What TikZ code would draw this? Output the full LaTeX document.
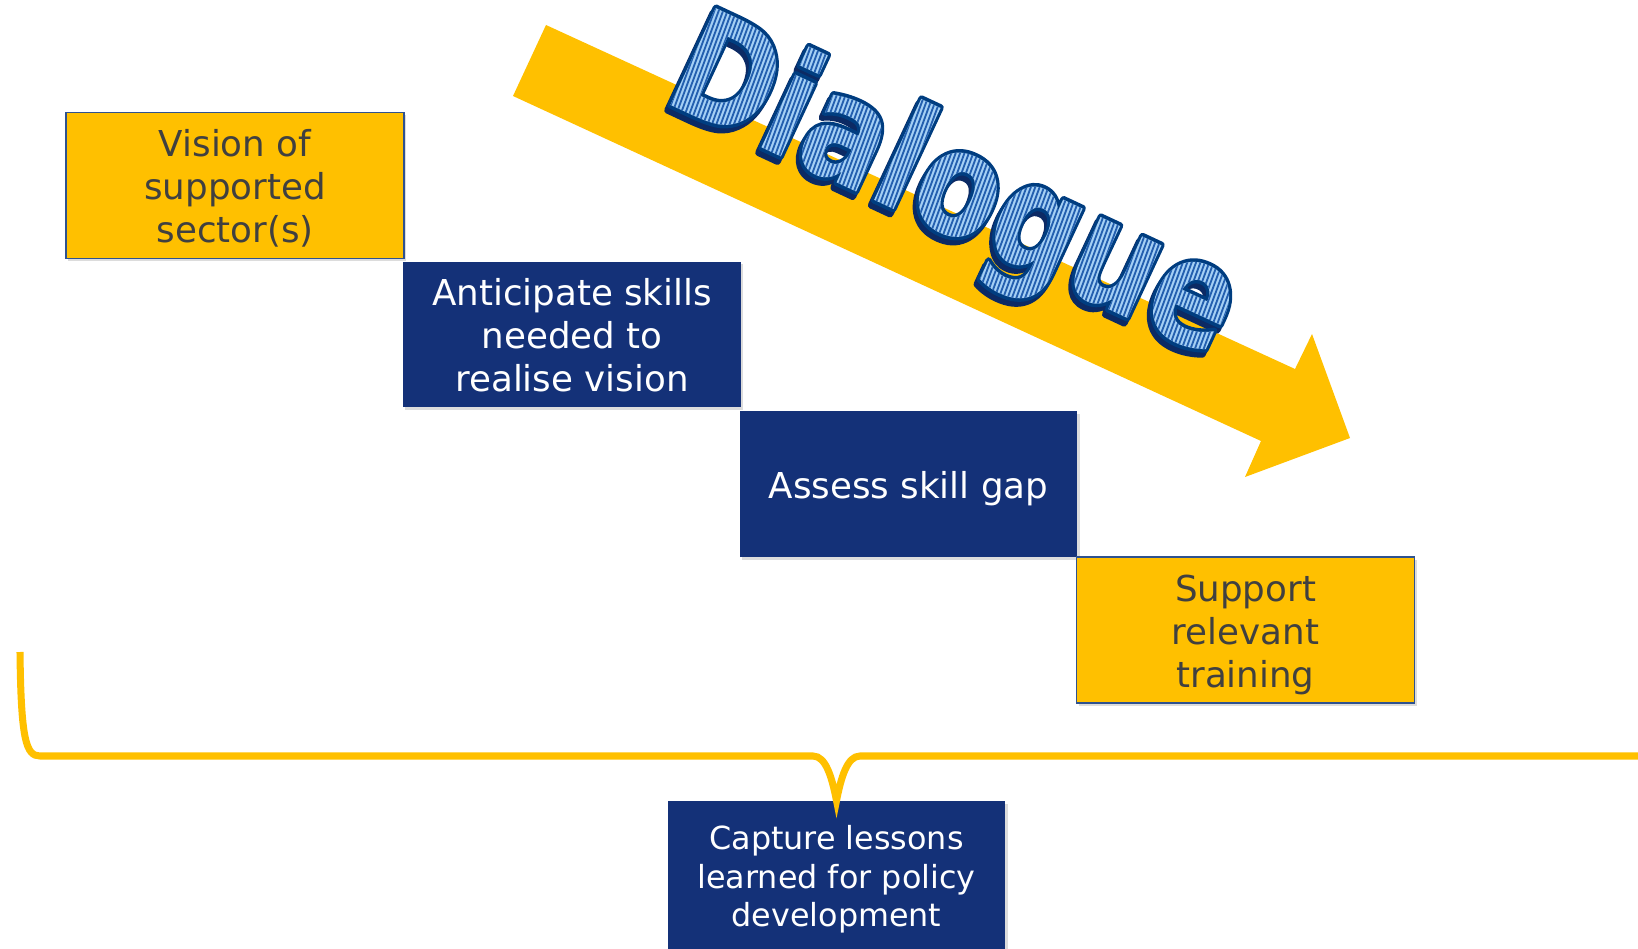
\documentclass[tikz,border=0pt]{standalone}
\usepackage{fontspec}
\setmainfont{DejaVu Sans}
\usetikzlibrary{shadows}
\definecolor{navy}{RGB}{20,49,120}
\definecolor{gold}{RGB}{255,192,0}
\definecolor{txtgray}{RGB}{64,64,64}
\definecolor{edgeblue}{RGB}{47,82,143}
\definecolor{dlglight}{RGB}{165,208,245}
\definecolor{dlgstripe}{RGB}{35,95,175}
\definecolor{dlgline}{RGB}{0,61,128}
\definecolor{dlgshadow}{RGB}{12,42,100}
% stroked text (fill + stroke) inside its own graphics state
\newcommand\strokeword[2]{\special{pdf:bcontent}\special{pdf:literal direct 2 Tr #1 w 1 j}#2\special{pdf:econtent}}
% text filled and stroked, also used as a clip that is filled with light blue and stripes
\newcommand\stripeword[2]{%
  \special{pdf:bcontent}%
  \rlap{\special{pdf:literal direct 6 Tr #1 w 1 j}#2}%
  \tikz[overlay,x=1pt,y=1pt,baseline=0pt]{%
    \fill[dlglight] (-8,-28) rectangle (365,82);
    \foreach \k in {-12,...,162}
      \draw[dlgstripe, line width=1.05pt] (\k*2.35,-28) -- ++(-11,110);}%
  \special{pdf:econtent}%
  \phantom{#2}}
\newcommand\boxtext[1]{\raisebox{0pt}[\height][\dimexpr\depth-6.4pt\relax]{\begin{tabular}{@{}c@{}}#1\end{tabular}}}
\begin{document}
\begin{tikzpicture}[x=0.02cm,y=-0.02cm,
  box/.style={minimum width=6.76cm, minimum height=2.92cm, inner sep=0pt,
    drop shadow={shadow xshift=1.2pt, shadow yshift=-1.6pt, opacity=0.28}},
  goldbox/.style={box, fill=gold, draw=edgeblue, line width=0.8pt, text=txtgray,
    font=\fontsize{20.3}{24.5}\selectfont},
  navybox/.style={box, fill=navy, text=white, font=\fontsize{20.3}{24.5}\selectfont},
  bracestyle/.style={draw=gold, line width=4pt},
  bigarrow/.style={fill=gold},
  dlgtext/.style={anchor=base west, rotate=-25, yscale=1.2, inner sep=0pt,
    font=\fontsize{69.5}{69.5}\selectfont\bfseries},
]
\useasboundingbox (0,0) rectangle (1638,949);

% big arrow
\fill[bigarrow] (546,25) -- (1295,369) -- (1312,334) -- (1350,438) -- (1245,477)
  -- (1261,441) -- (513,96) -- cycle;

% Dialogue word-art: shadow, then outlined striped letters
\node[dlgtext, text=dlgshadow] (dlgs) at (660-3,100+5) {\strokeword{3.5}{Dialogue}};
\node[dlgtext, text=dlgline] (dlg) at (660,100) {\stripeword{3.5}{Dialogue}};

% boxes
\node[goldbox] (vision) at (235,185.5) {\boxtext{Vision of\\supported\\sector(s)}};
\node[navybox] (anticip) at (572,334.5) {\boxtext{Anticipate skills\\needed to\\realise vision}};
\node[navybox] (assess) at (908.5,484) {\boxtext{Assess skill gap}};
\node[goldbox] (support) at (1245.5,630) {\boxtext{Support\\relevant\\training}};
\node[navybox, minimum height=2.96cm, font=\fontsize{18.1}{21.8}\selectfont] (capture) at (836.5,875)
  {\boxtext{Capture lessons\\learned for policy\\development}};

% brace
\coordinate (braceL) at (20,652);
\coordinate (braceR) at (1638,756);
\draw[bracestyle] (braceL) .. controls (21,740) and (26,756) .. (40,756) -- (813,756)
  .. controls (826,756) and (832,778) .. (capture.north)
  .. controls (841,778) and (847,756) .. (860,756) -- (braceR);
\end{tikzpicture}
\end{document}
